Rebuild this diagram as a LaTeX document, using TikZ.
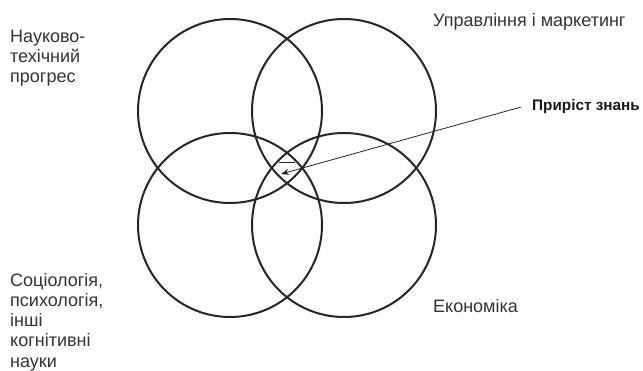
\documentclass[tikz,border=0pt]{standalone}
\usepackage{fontspec}
\setmainfont{Liberation Sans}
\usetikzlibrary{arrows.meta, positioning}

\begin{document}
\begin{tikzpicture}[
  x=1pt, y=-1pt,
  ring/.style={draw=black!85, line width=2pt, circle, minimum size=184pt, inner sep=0pt},
  lbl/.style={anchor=north west, inner sep=0pt, align=left, text=black!80, font=\fontsize{18}{20.2}\selectfont},
  tag/.style={anchor=base west, inner sep=0pt, text=black!90, font=\fontsize{15.3}{17}\selectfont\bfseries},
  arrow/.style={black!85, line width=0.8pt, -{Stealth[length=8pt,width=6pt]}}
]
  \useasboundingbox (0,0) rectangle (643,371);

  % four overlapping circles
  \node (sci)  [ring] at (230,111) {};
  \node (mgmt) [ring] at (344,111) {};
  \node (soc)  [ring] at (230,225) {};
  \node (econ) [ring] at (344,225) {};

  \node (scilbl)  [lbl] at (10,30)   {Науково-\\техічний\\прогрес};
  \node (mgmtlbl) [lbl, anchor=base west] at (433,27) {Управління і маркетинг};
  \node (soclbl)  [lbl] at (10,273)  {Соціологія,\\психологія,\\інші\\когнітивні\\науки};
  \node (econlbl) [lbl, anchor=base west] at (433,313) {Економіка};

  \node (gain) [tag] at (532,111) {Приріст знань};
  \coordinate (core) at (281,174);

  \draw [black!85, line width=0.8pt] (279,162) -- (295,162);
  \draw [arrow] ([xshift=-11pt]gain.west) -- (core);
\end{tikzpicture}
\end{document}
